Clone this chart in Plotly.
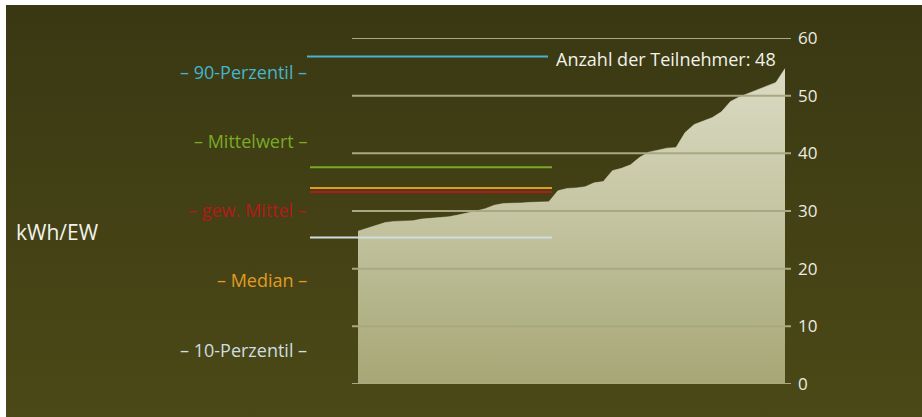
import base64
import plotly.graph_objects as go

# Consumption per participant (kWh/EW), sorted ascending
participants = list(range(48))
consumption = [
    26.5, 27.0, 27.5, 28.0, 28.2, 28.3, 28.3, 28.6, 28.7, 28.8,
    29.0, 29.3, 29.6, 30.0, 30.4, 31.0, 31.3, 31.3, 31.4, 31.5,
    31.5, 31.6, 33.5, 33.9, 34.0, 34.2, 34.9, 35.1, 37.0, 37.4,
    38.0, 39.3, 40.2, 40.6, 40.9, 41.0, 43.6, 45.0, 45.6, 46.2,
    47.2, 49.0, 49.8, 50.4, 51.0, 51.6, 52.3, 54.7,
]

# Summary statistics
stat_names = ["90-Perzentil", "Mittelwert", "gew. Mittel", "Median", "10-Perzentil"]
stat_values = [56.8, 37.6, 33.3, 34.0, 25.4]
stat_colors = ["#46b4cc", "#7aaa28", "#b41a1a", "#e09c22", "#cfdde0"]

y_ticks = [0, 10, 20, 30, 40, 50, 60]
n_participants = len(consumption)

W, H = 922, 417
ML, MR, MT, MB = 352, 131, 38, 33
PW, PH = W - ML - MR, H - MT - MB


def px_x(px):
    return (px - ML) / PW


def px_y(py):
    return (H - MB - py) / PH


fig = go.Figure()

fig.add_trace(go.Scatter(
    x=participants,
    y=consumption,
    mode="lines",
    line=dict(width=0.5, color="#d6d6be", shape="linear"),
    fill="tozeroy",
    fillgradient=dict(
        type="vertical",
        colorscale=[[0, "#a6a676"], [0.55, "#c6c6a4"], [1, "#dcdcc6"]],
        start=0,
        stop=56,
    ),
    hoverinfo="skip",
    showlegend=False,
))

# Dark olive backdrop with a soft vertical gradient (inline SVG image)
bg_svg = (
    '<svg xmlns="http://www.w3.org/2000/svg" width="916" height="412" '
    'preserveAspectRatio="none" viewBox="0 0 916 412">'
    '<defs><linearGradient id="g" x1="0" y1="0" x2="0" y2="1">'
    '<stop offset="0" stop-color="#3a3813"/>'
    '<stop offset="1" stop-color="#4c4917"/>'
    '</linearGradient></defs>'
    '<rect x="0" y="0" width="916" height="412" fill="url(#g)"/></svg>'
)
bg_uri = "data:image/svg+xml;base64," + base64.b64encode(bg_svg.encode()).decode()

shapes = []

# Grid lines drawn above the area
for v in y_ticks:
    shapes.append(dict(
        type="line", xref="paper", yref="y",
        x0=0, x1=1, y0=v, y1=v,
        line=dict(color="#a8a882", width=2), layer="above",
    ))

# Statistic reference lines
for name, v, c in zip(stat_names, stat_values, stat_colors):
    x0 = px_x(307) if name == "90-Perzentil" else px_x(310)
    x1 = px_x(548) if name == "90-Perzentil" else px_x(552)
    shapes.append(dict(
        type="line", xref="paper", yref="y",
        x0=x0, x1=x1, y0=v, y1=v,
        line=dict(color=c, width=2), layer="above",
    ))

annotations = []
label_rows = [72, 141, 210, 280, 350]
for name, c, py in zip(stat_names, stat_colors, label_rows):
    annotations.append(dict(
        text=f"– {name} –", xref="paper", yref="paper",
        x=px_x(309), y=px_y(py), xanchor="right", yanchor="middle",
        showarrow=False, font=dict(family="Open Sans", size=18, color=c),
    ))

annotations.append(dict(
    text="kWh/EW", xref="paper", yref="paper",
    x=px_x(14), y=px_y(232), xanchor="left", yanchor="middle",
    showarrow=False, font=dict(family="Open Sans", size=21, color="#f2f2ea"),
))
annotations.append(dict(
    text=f"Anzahl der Teilnehmer: {n_participants}", xref="paper", yref="paper",
    x=px_x(778), y=px_y(59), xanchor="right", yanchor="middle",
    showarrow=False, font=dict(family="Open Sans", size=18, color="#f2f2ea"),
))

fig.update_layout(
    width=W, height=H,
    margin=dict(l=ML, r=MR, t=MT, b=MB, pad=0),
    paper_bgcolor="#ffffff",
    plot_bgcolor="rgba(0,0,0,0)",
    images=[dict(
        source=bg_uri, xref="paper", yref="paper",
        x=px_x(6), y=px_y(5), sizex=(W - 6 + 4) / PW, sizey=(H - 5 + 4) / PH,
        xanchor="left", yanchor="top", sizing="stretch", layer="below",
    )],
    shapes=shapes,
    annotations=annotations,
    showlegend=False,
    xaxis=dict(
        range=[-0.66, n_participants - 1 + 0.66],
        visible=False, fixedrange=True,
    ),
    yaxis=dict(
        range=[0, 60], side="right",
        tickvals=y_ticks, ticktext=[str(v) for v in y_ticks],
        showgrid=False, zeroline=False, showline=False,
        ticks="", ticklabelstandoff=6,
        tickfont=dict(family="Open Sans", size=17, color="#ecece0"),
        fixedrange=True,
    ),
)

fig.write_html("out.html", config={"displayModeBar": False})
